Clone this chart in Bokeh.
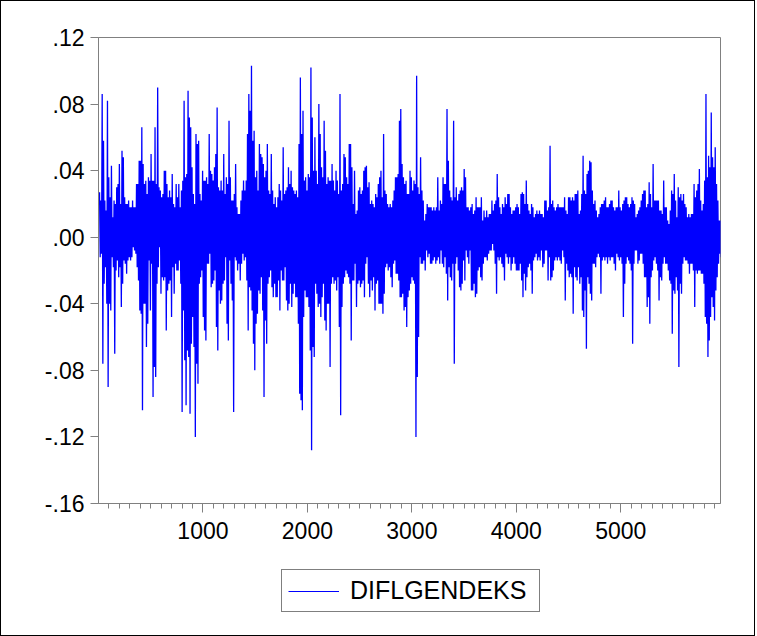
import numpy as np
from bokeh.plotting import figure
from bokeh.layouts import column
from bokeh.models import Range1d, FixedTicker, CustomJSTickFormatter, Legend, LegendItem
from bokeh.embed import file_html
from bokeh.resources import INLINE

hi_a = [.027,.022,.086,.058,.022,.016,.082,.036,.024,.043,.012,.022,.020,.030,.032,.044,.020,.052,.048,.024,
        .020,.020,.022,.018,.018,.022,.018,.018,.032,.032,.046,.046,.066,.044,.032,.034,.026,.036,.034,.050,
        .034,.034,.066,.032,.090,.030,.028,.024,.026,.040,.040,.032,.024,.028,.024,.038,.020,.018,.032,.024,
        .032,.018,.028,.034,.082,.036]
lo_a = [-.012,-.010,-.076,-.028,-.018,-.040,-.090,-.040,-.044,-.012,-.018,-.070,-.020,-.014,-.024,-.018,-.042,-.028,-.014,-.016,
        -.022,-.014,-.012,-.014,-.012,-.006,-.008,-.010,-.018,-.026,-.044,-.046,-.104,-.040,-.040,-.066,-.052,-.014,-.044,-.016,
        -.096,-.078,-.084,-.028,-.018,-.006,-.034,-.024,-.026,-.024,-.056,-.032,-.028,-.026,-.048,-.018,-.034,-.016,-.020,-.020,
        -.014,-.028,-.105,-.044,-.074,-.101]
hi_b = [.038,.088,.072,.066,.042,.026,.020,.062,.056,.058,.026,.022,.040,.034,.034,.036,.032,.062,.040,.038,
        .034,.042,.050,.078,.030,.028,.034,.028,.050,.026,.036,.032,.070,.036,.022,.022,.026,.044,.018,.014,
        .014,.022,.028,.034,.028,.034,.062,.086,.076,.103,.058,.064,.036,.040,.028,.056,.050,.048,.044,.036,
        .040,.056,.028,.026,.050,.028,.020,.024]
lo_b = [-.068,-.072,-.106,-.064,-.048,-.066,-.120,-.076,-.088,-.028,-.024,-.020,-.048,-.056,-.062,-.016,-.016,-.010,-.030,-.028,
        -.026,-.020,-.054,-.068,-.032,-.040,-.038,-.028,-.026,-.012,-.052,-.062,-.014,-.028,-.038,-.105,-.012,-.014,-.020,-.016,
        -.026,-.016,-.010,-.014,-.012,-.026,-.056,-.030,-.032,-.044,-.064,-.080,-.052,-.046,-.032,-.034,-.024,-.044,-.096,-.050,
        -.064,-.028,-.024,-.020,-.030,-.036,-.028,-.036]
hi_c = [.018,.024,.032,.028,.022,.054,.026,.028,.030,.042,.032,.040,.030,.028,.026,.028,.024,.056,.096,.062,
        .076,.034,.036,.028,.038,.036,.102,.072,.040,.060,.040,.032,.080,.062,.042,.036,.070,.052,.032,.036,
        .034,.034,.044,.034,.028,.040,.034,.026,.086,.028,.032,.050,.048,.036,.032,.056,.056,.042,.020,.040,
        .014,.016,.028,.030,.026,.028,.040,.042]
lo_c = [-.036,-.026,-.044,-.020,-.026,-.026,-.018,-.038,-.044,-.040,-.028,-.042,-.034,-.028,-.036,-.036,-.052,-.094,-.098,-.104,
        -.048,-.032,-.036,-.036,-.042,-.068,-.128,-.066,-.072,-.028,-.034,-.042,-.040,-.048,-.036,-.028,-.050,-.056,-.040,-.040,
        -.078,-.028,-.024,-.028,-.026,-.032,-.024,-.054,-.107,-.042,-.028,-.024,-.020,-.022,-.024,-.028,-.062,-.026,-.026,-.016,
        -.042,-.028,-.026,-.030,-.028,-.026,-.036,-.016]
hi_d = [.043,.030,.033,.020,.022,.020,.018,.026,.024,.032,.036,.040,.024,.062,.028,.026,.020,.018,.020,.018,
        .022,.028,.036,.036,.038,.070,.077,.044,.036,.032,.034,.026,.026,.040,.036,.028,.034,.032,.097,.030,
        .026,.048,.028,.022,.010,.014,.020,.018,.018,.018,.016,.018,.016,.018,.036,.016,.022,.020,.036,.032,
        .032,.077,.046,.028,.024,.022,.070,.024]
lo_d = [-.012,-.028,-.036,-.026,-.032,-.024,-.044,-.028,-.026,-.040,-.040,-.040,-.046,-.034,-.018,-.016,-.020,-.018,-.024,-.030,
        -.016,-.014,-.022,-.022,-.026,-.036,-.036,-.034,-.044,-.042,-.054,-.036,-.032,-.028,-.024,-.026,-.028,-.120,-.084,-.060,
        -.012,-.016,-.016,-.014,-.020,-.008,-.012,-.010,-.016,-.016,-.014,-.012,-.016,-.014,-.012,-.016,-.008,-.016,-.018,-.012,
        -.022,-.038,-.018,-.024,-.026,-.016,-.076,-.016]
hi_e = [.030,.022,.026,.028,.030,.028,.041,.036,.018,.018,.016,.018,.020,.014,.016,.024,.018,.018,.018,.024,
        .010,.016,.012,.016,.012,.014,.014,.022,.016,.020,.022,.038,.024,.018,.014,.020,.018,.024,.020,.026,
        .026,.018,.014,.016,.016,.018,.020,.018,.014,.026,.027,.026,.020,.034,.020,.016,.014,.020,.018,.012,
        .014,.016,.014,.016,.014,.014,.012,.022]
lo_e = [-.012,-.020,-.030,-.032,-.028,-.014,-.026,-.008,-.012,-.016,-.008,-.032,-.032,-.028,-.036,-.034,-.020,-.018,-.024,-.026,
        -.016,-.012,-.012,-.014,-.010,-.008,-.008,-.004,-.008,-.016,-.034,-.012,-.014,-.012,-.016,-.018,-.026,-.010,-.012,-.016,
        -.012,-.020,-.016,-.012,-.016,-.020,-.020,-.020,-.016,-.026,-.036,-.022,-.032,-.024,-.018,-.016,-.020,-.034,-.014,-.012,
        -.010,-.014,-.012,-.014,-.008,-.018,-.016,-.008]
hi_f = [.022,.016,.018,.055,.020,.022,.018,.016,.018,.020,.018,.018,.018,.018,.024,.016,.014,.024,.024,.022,
        .024,.022,.026,.026,.028,.014,.016,.026,.049,.028,.026,.038,.040,.046,.045,.028,.020,.022,.016,.012,
        .014,.018,.020,.020,.022,.024,.018,.018,.020,.022,.022,.018,.016,.018,.018,.028,.018,.016,.020,.022,
        .024,.024,.020,.018,.020,.024,.022,.020]
lo_f = [-.008,-.026,-.012,-.026,-.024,-.020,-.014,-.012,-.014,-.012,-.014,-.016,-.008,-.012,-.038,-.016,-.020,-.024,-.022,-.024,
        -.046,-.018,-.024,-.026,-.018,-.028,-.024,-.044,-.048,-.032,-.067,-.024,-.028,-.034,-.038,-.016,-.016,-.018,-.012,-.010,
        -.012,-.034,-.014,-.012,-.014,-.012,-.016,-.012,-.014,-.012,-.012,-.016,-.020,-.010,-.012,-.014,-.012,-.016,-.048,-.028,
        -.016,-.012,-.014,-.016,-.020,-.064,-.016,-.008]
hi_g = [.012,.014,.016,.018,.022,.026,.028,.028,.018,.020,.033,.026,.018,.044,.022,.022,.022,.022,.016,.016,
        .014,.034,.018,.018,.010,.008,.016,.028,.026,.038,.022,.012,.030,.024,.026,.022,.026,.020,.018,.012,
        .014,.012,.014,.014,.032,.024,.028,.032,.041,.022,.016,.020,.034,.086,.036,.049,.042,.075,.048,.042,
        .054,.032,.022,.010,.010]
lo_g = [-.008,-.016,-.014,-.010,-.010,-.016,-.024,-.024,-.042,-.036,-.052,-.024,-.020,-.014,-.012,-.016,-.020,-.038,-.024,-.026,
        -.016,-.012,-.016,-.016,-.020,-.026,-.028,-.058,-.032,-.034,-.024,-.032,-.078,-.028,-.034,-.016,-.012,-.014,-.014,-.016,
        -.022,-.016,-.016,-.020,-.042,-.020,-.022,-.020,-.020,-.022,-.022,-.028,-.048,-.052,-.072,-.062,-.048,-.036,-.042,-.050,
        -.032,-.024,-.016,-.010,-.012]

first_obs, last_obs = 10, 5955
series_name = "DIFLGENDEKS"
y_ticks = [-0.16, -0.12, -0.08, -0.04, 0.0, 0.04, 0.08, 0.12]
x_ticks = [1000, 2000, 3000, 4000, 5000]
x_minor = list(range(100, 6000, 100))

his, los = [], []
for h, l in [(hi_a, lo_a), (hi_b, lo_b), (hi_c, lo_c), (hi_d, lo_d), (hi_e, lo_e), (hi_f, lo_f), (hi_g, lo_g)]:
    m = min(len(h), len(l))
    his.extend(h[:m]); los.extend(l[:m])
hi = np.array(his); lo = np.array(los)
n = len(hi)
obs = np.linspace(first_obs, last_obs, n)
step = obs[1] - obs[0]
xs = np.empty(2 * n); ys = np.empty(2 * n)
xs[0::2] = obs; xs[1::2] = obs + step / 2
ys[0::2] = hi; ys[1::2] = lo

LINE_COLOR = "#0000FF"
AXIS_GRAY = "#808080"

p = figure(width=755, height=562, x_range=Range1d(0, 5955), y_range=Range1d(-0.16, 0.12),
           output_backend="svg", toolbar_location=None,
           min_border_left=97, min_border_right=34, min_border_top=36, min_border_bottom=60)
p.xgrid.visible = False
p.ygrid.visible = False
p.outline_line_color = AXIS_GRAY
p.outline_line_width = 1
p.background_fill_color = "white"
p.border_fill_color = "white"

r = p.line(xs, ys, line_color=LINE_COLOR, line_width=1.3)

for ax in (p.xaxis[0], p.yaxis[0]):
    ax.axis_line_color = AXIS_GRAY
    ax.major_tick_line_color = AXIS_GRAY
    ax.minor_tick_line_color = AXIS_GRAY
    ax.major_tick_in = 0
    ax.minor_tick_in = 0
    ax.major_label_text_font = "Liberation Sans"
    ax.major_label_text_font_size = "23px"
    ax.major_label_text_color = "black"

p.yaxis[0].ticker = FixedTicker(ticks=y_ticks)
p.yaxis[0].formatter = CustomJSTickFormatter(code="var s = tick.toFixed(2); return s.replace('0.', '.');")
p.yaxis[0].major_tick_out = 8
p.yaxis[0].minor_tick_out = 0
p.yaxis[0].major_label_standoff = 6

p.xaxis[0].ticker = FixedTicker(ticks=x_ticks, minor_ticks=x_minor)
p.xaxis[0].major_tick_out = 9
p.xaxis[0].minor_tick_out = 5
p.xaxis[0].major_label_standoff = 9

# legend strip below the chart (its frame is aligned with the chart frame by the column layout)
p2 = figure(width=755, height=72, x_range=Range1d(0, 1), y_range=Range1d(0, 1),
            output_backend="svg", toolbar_location=None, x_axis_type=None, y_axis_type=None,
            min_border=0, min_border_left=0, min_border_right=0, min_border_top=0, min_border_bottom=0)
p2.xgrid.visible = False
p2.ygrid.visible = False
p2.outline_line_color = None
p2.background_fill_color = "white"
p2.border_fill_color = "white"
# legend-key stand-in: same style as the series, kept outside the visible range
r2 = p2.line(x=[0, 1], y=[-5, -5], line_color=LINE_COLOR, line_width=1)

legend = Legend(items=[LegendItem(label=series_name, renderers=[r2])], location=(183, 23))
legend.border_line_color = "#000000"
legend.border_line_width = 1
legend.background_fill_color = "white"
legend.background_fill_alpha = 1
legend.label_text_font = "Liberation Sans"
legend.label_text_font_size = "25px"
legend.label_text_color = "black"
legend.glyph_width = 51
legend.label_standoff = 11
legend.label_width = 183
legend.padding = 6
legend.margin = 0
legend.spacing = 0
p2.add_layout(legend, "center")

layout = column(p, p2, spacing=0)
layout.styles = {"border": "1px solid #000000", "width": "755px"}

open("out.html", "w").write(file_html(layout, INLINE))
